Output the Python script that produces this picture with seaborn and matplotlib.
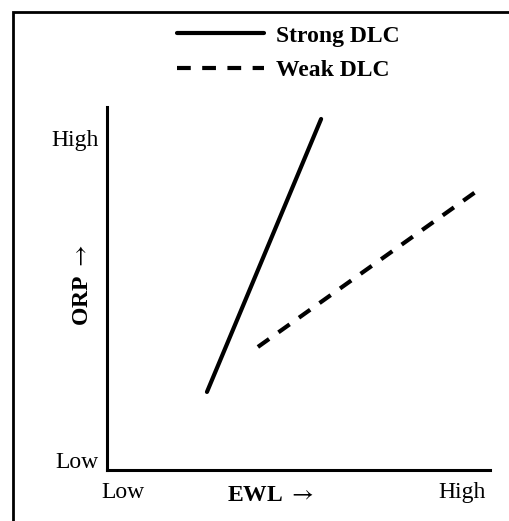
import matplotlib.pyplot as plt
import matplotlib.patches as patches
import seaborn as sns
import pandas as pd

# axes scaled 0..1
series_names = ["Strong DLC", "Weak DLC"]
strong_ewl = [0.261, 0.559]
strong_orp = [0.215, 0.967]
weak_ewl = [0.394, 0.969]
weak_orp = [0.339, 0.771]
tick_labels = ["Low", "High"]
x_tick_pos = [0.042, 0.927]
y_tick_pos = [0.028, 0.915]

sns.set_style("white")
plt.rcParams["font.family"] = ["Liberation Serif", "DejaVu Serif"]
plt.rcParams["mathtext.fontset"] = "stix"
plt.rcParams["text.color"] = "black"
plt.rcParams["axes.labelcolor"] = "black"

plot_data = pd.DataFrame({
    "EWL": strong_ewl + weak_ewl,
    "ORP": strong_orp + weak_orp,
    "series": [series_names[0]] * 2 + [series_names[1]] * 2,
})

fig = plt.figure(figsize=(5.09, 5.21), dpi=100)
ax = fig.add_axes([0.2102, 0.0979, 0.7525, 0.6967])
sns.lineplot(data=plot_data, x="EWL", y="ORP", style="series",
             dashes={series_names[0]: "", series_names[1]: (3.3, 2.75)},
             color="black", linewidth=3, ax=ax)

ax.set_xlim(0, 1)
ax.set_ylim(0, 1)
ax.set_xticks(x_tick_pos)
ax.set_xticklabels(tick_labels)
ax.set_yticks(y_tick_pos)
ax.set_yticklabels(tick_labels)
ax.tick_params(length=0, labelsize=17, colors="black")
ax.tick_params(axis="y", pad=6)
ax.tick_params(axis="x", pad=9)

for side in ["top", "right"]:
    ax.spines[side].set_visible(False)
for side in ["left", "bottom"]:
    ax.spines[side].set_linewidth(2.2)
    ax.spines[side].set_color("black")

ax.set_xlabel(r"EWL $\rightarrow$", fontsize=17, fontweight="bold", va="center")
ax.xaxis.set_label_coords(0.426, -0.069)
ax.set_ylabel(r"ORP $\rightarrow$", fontsize=17, fontweight="bold", va="center")
ax.yaxis.set_label_coords(-0.063, 0.51)

handles, labels = ax.get_legend_handles_labels()
for h in handles:
    h.set_color("black")
    h.set_linewidth(3)
leg = ax.legend(handles, labels, loc="center", bbox_to_anchor=(0.566, 0.898),
                bbox_transform=fig.transFigure, frameon=False,
                prop={"size": 17, "weight": "bold"}, handlelength=3.7,
                handletextpad=0.5, labelspacing=0.55)
for t in leg.get_texts():
    t.set_color("black")

# frame around the whole picture (cut off at right and bottom)
fig.patches.append(patches.Rectangle((13 / 509, -0.2), 2, 1.2 - 12 / 521,
                                     transform=fig.transFigure, fill=False,
                                     edgecolor="black", linewidth=2))

fig.savefig("out.png", dpi=100)
